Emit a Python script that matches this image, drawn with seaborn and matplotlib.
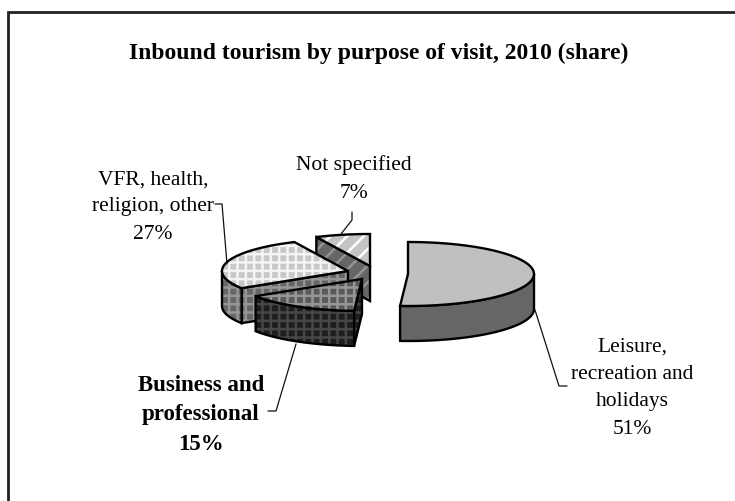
import numpy as np
import matplotlib
matplotlib.use("Agg")
import matplotlib.pyplot as plt
from matplotlib.patches import Polygon
import seaborn as sns

# Share of inbound tourism by purpose of visit, clockwise from twelve o'clock
purposes = ["Leisure", "Business", "VFR", "Unspecified"]
shares = [51, 15, 27, 7]

# Pixel position of each slice's tip once exploded
tip_x = [408, 362, 348, 370]
tip_y = [275, 280, 272, 267]

# Greys for (top fill, top hatch, side fill, side hatch)
top_fill = ["#c0c0c0", "#5a5a5a", "#c8c8c8", "#c4c4c4"]
top_hatch = [None, "#969696", "#f4f4f4", "#ffffff"]
side_fill = ["#666666", "#1e1e1e", "#666666", "#666666"]
side_hatch = [None, "#464646", "#959595", "#949494"]
patterns = [None, "++", "++", "//"]

RX, RY, DEPTH = 126, 32, 35

sns.set_theme(style="white")
plt.rcParams["font.family"] = ["Liberation Serif", "DejaVu Serif"]
plt.rcParams["hatch.linewidth"] = 1.8

fig = plt.figure(figsize=(7.35, 5.02), dpi=100, facecolor="white")
ax = fig.add_axes([0, 0, 1, 1])
ax.set_xlim(0, 735)
ax.set_ylim(502, 0)
ax.axis("off")


def rim(cx, cy, a0, a1):
    """Ellipse arc between two clockwise-from-top angles, in degrees."""
    t = np.radians(np.linspace(a0, a1, 90))
    return np.column_stack([cx + RX * np.sin(t), cy - RY * np.cos(t)])


def shape(points, fill, hatch_color, pattern, z):
    """Filled polygon, optional hatch layer and a black outline."""
    ax.add_patch(Polygon(points, closed=True, facecolor=fill, edgecolor="none", zorder=z))
    if pattern:
        ax.add_patch(Polygon(points, closed=True, facecolor="none", edgecolor=hatch_color,
                             hatch=pattern, linewidth=0, zorder=z))
    ax.add_patch(Polygon(points, closed=True, facecolor="none", edgecolor="black",
                         linewidth=1.7, joinstyle="miter", zorder=z))


# Frame: only the top and left rules are drawn
ax.plot([8, 8, 735], [502, 13, 13], color="#222222", lw=2.0, solid_joinstyle="miter", zorder=1)

edges = np.cumsum([0] + shares) * 3.6

# Paint back to front so nearer slices overlap farther ones
for i in [3, 2, 1, 0]:
    z = 10 + (3 - i) * 5
    a0, a1 = edges[i], edges[i + 1]
    cx, cy = tip_x[i], tip_y[i]
    tip = np.array([[cx, cy]])
    depth = np.array([0, DEPTH])

    # Cut faces that turn toward the viewer
    for ang, visible in ((a0, np.sin(np.radians(a0)) < -0.01),
                         (a1, np.sin(np.radians(a1)) > 0.01)):
        if visible:
            p = rim(cx, cy, ang, ang)[:1]
            face = np.vstack([tip, p, p + depth, tip + depth])
            shape(face, side_fill[i], side_hatch[i], patterns[i], z)

    # Outer wall, only for the part of the rim on the near half
    lo, hi = max(a0, 90), min(a1, 270)
    if hi > lo:
        arc = rim(cx, cy, lo, hi)
        shape(np.vstack([arc, (arc + depth)[::-1]]), side_fill[i], side_hatch[i], patterns[i], z + 1)

    # Top surface
    shape(np.vstack([tip, rim(cx, cy, a0, a1)]), top_fill[i], top_hatch[i], patterns[i], z + 2)

# Leader lines
leaders = [
    ([567, 559, 535], [387, 387, 311]),
    ([268, 276, 296], [412, 412, 345]),
    ([215, 222, 227], [205, 205, 265]),
    ([352, 352, 341], [213, 221, 235]),
]
for xs, ys in leaders:
    ax.plot(xs, ys, color="#111111", lw=0.9, zorder=40)

ax.text(379, 53, "Inbound tourism by purpose of visit, 2010 (share)",
        ha="center", va="center", fontsize=17, fontweight="bold", color="black")

labels = [
    (632, 388, f"Leisure,\nrecreation and\nholidays\n{shares[0]}%", "normal", 15.5),
    (201, 415, f"Business and\nprofessional\n{shares[1]}%", "bold", 16.5),
    (153, 207, f"VFR, health,\nreligion, other\n{shares[2]}%", "normal", 15.5),
    (354, 179, f"Not specified\n{shares[3]}%", "normal", 15.5),
]
for x, y, txt, weight, size in labels:
    ax.text(x, y, txt, ha="center", va="center", fontsize=size, fontweight=weight,
            linespacing=1.6 * 15.5 / size, color="black", zorder=41)

fig.savefig("out.png", dpi=100, facecolor="white")
